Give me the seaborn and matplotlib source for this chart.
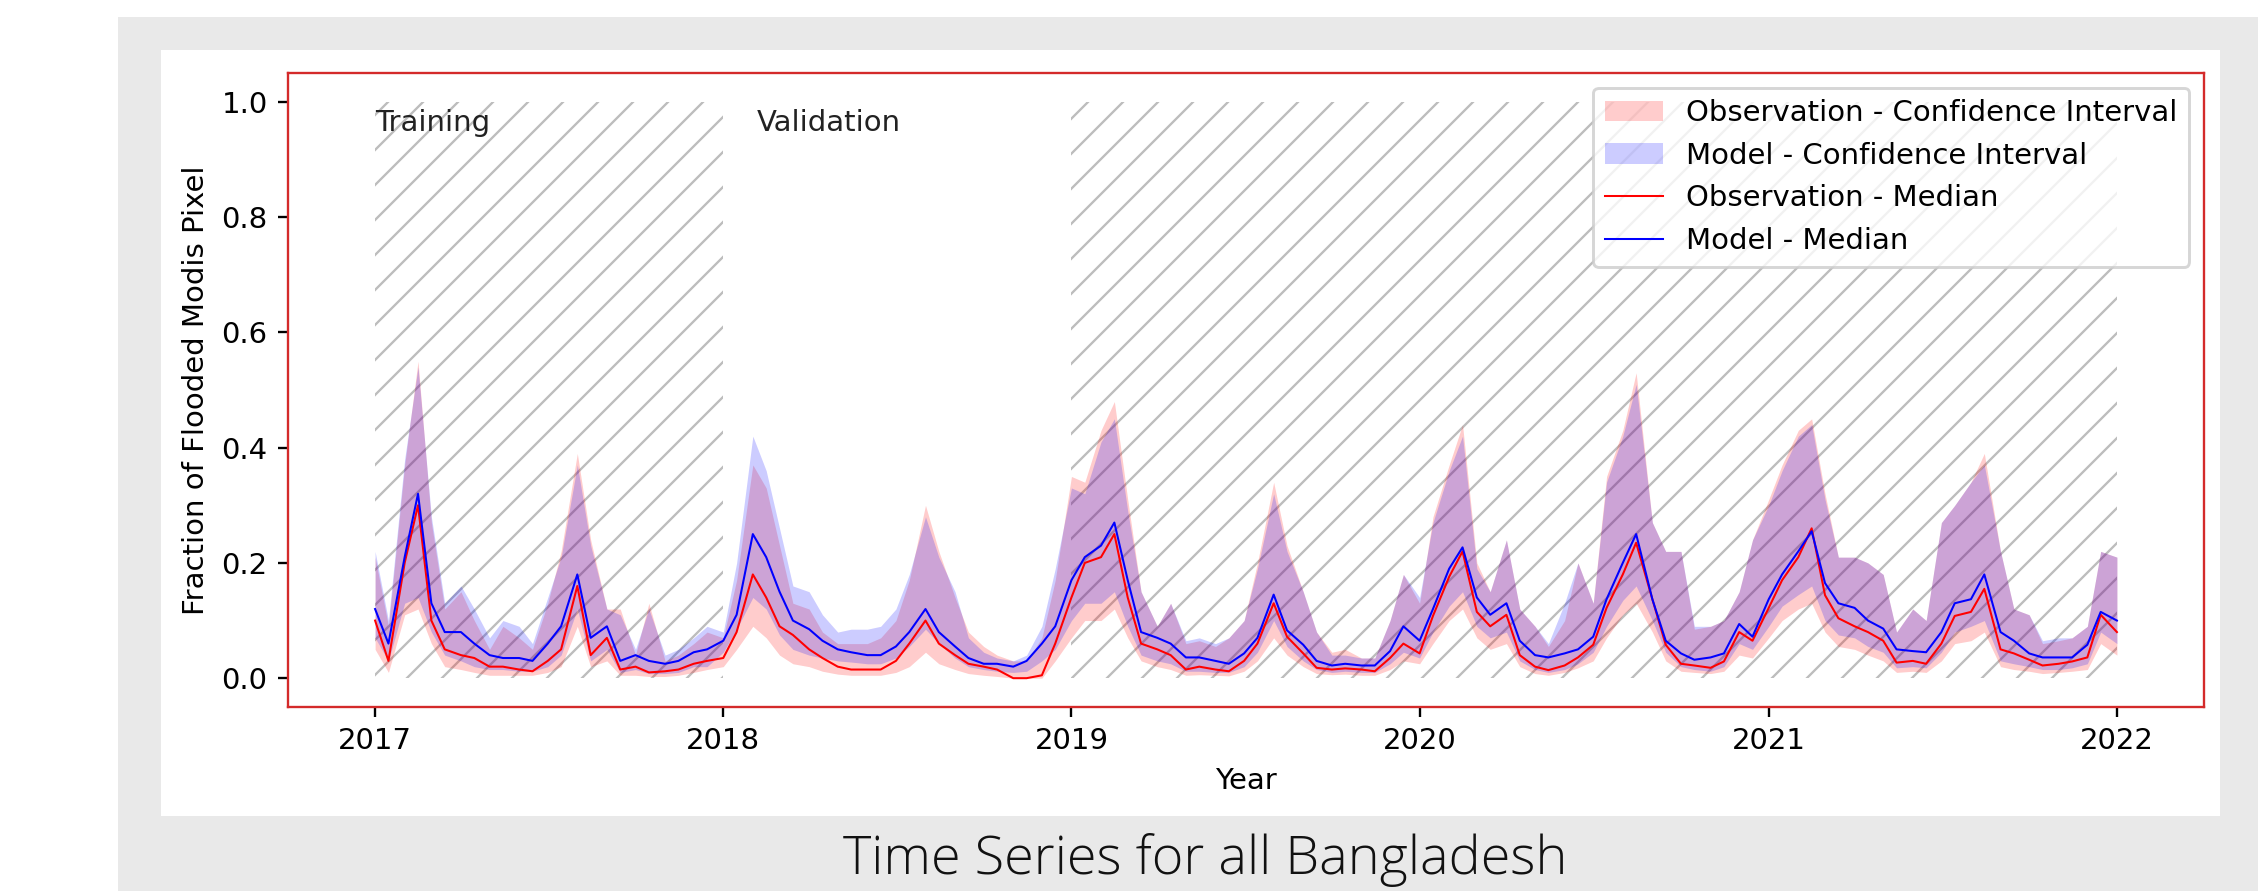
import matplotlib
matplotlib.use("Agg")
import matplotlib.pyplot as plt
import matplotlib.dates as mdates
from matplotlib.patches import Rectangle
import numpy as np
import pandas as pd
import seaborn as sns

# semi-monthly sampling, 2017-01-01 .. 2022-01-01
dates = pd.date_range("2017-01-01", "2022-01-01", freq="SMS")

obs_med = [
    0.10, 0.03, 0.20, 0.30, 0.10, 0.05, 0.04, 0.035, 0.02, 0.02, 0.015, 0.012,
    0.03, 0.05, 0.16, 0.04, 0.07, 0.015, 0.02, 0.01, 0.012, 0.015, 0.025, 0.03,
    0.035, 0.08, 0.18, 0.14, 0.09, 0.075, 0.05, 0.035, 0.02, 0.015, 0.015, 0.015,
    0.03, 0.06, 0.10, 0.06, 0.04, 0.025, 0.02, 0.015, 0.0, 0.0, 0.005, 0.06,
    0.14, 0.20, 0.21, 0.25, 0.14, 0.06, 0.05, 0.04, 0.015, 0.02, 0.015, 0.012,
    0.03, 0.06, 0.13, 0.072, 0.043, 0.018, 0.015, 0.017, 0.015, 0.012, 0.035, 0.06,
    0.043, 0.108, 0.176, 0.22, 0.115, 0.09, 0.11, 0.04, 0.02, 0.014, 0.022, 0.036,
    0.058, 0.122, 0.18, 0.235, 0.137, 0.058, 0.025, 0.022, 0.018, 0.029, 0.08, 0.065,
    0.122, 0.17, 0.21, 0.26, 0.144, 0.104, 0.09, 0.08, 0.065, 0.027, 0.03, 0.025,
    0.06, 0.108, 0.115, 0.155, 0.05, 0.043, 0.032, 0.022, 0.025, 0.029, 0.036, 0.11,
    0.08,
]
mod_med = [
    0.12, 0.06, 0.21, 0.32, 0.13, 0.08, 0.08, 0.06, 0.04, 0.035, 0.035, 0.03,
    0.06, 0.09, 0.18, 0.07, 0.09, 0.03, 0.04, 0.03, 0.025, 0.03, 0.045, 0.05,
    0.065, 0.11, 0.25, 0.21, 0.15, 0.10, 0.085, 0.065, 0.05, 0.045, 0.04, 0.04,
    0.055, 0.08, 0.12, 0.08, 0.055, 0.035, 0.025, 0.025, 0.02, 0.03, 0.06, 0.09,
    0.17, 0.21, 0.23, 0.27, 0.17, 0.08, 0.07, 0.06, 0.036, 0.036, 0.03, 0.025,
    0.043, 0.07, 0.145, 0.083, 0.058, 0.03, 0.022, 0.025, 0.022, 0.022, 0.047, 0.09,
    0.065, 0.12, 0.19, 0.227, 0.14, 0.11, 0.13, 0.065, 0.04, 0.036, 0.043, 0.05,
    0.072, 0.137, 0.20, 0.25, 0.137, 0.065, 0.043, 0.032, 0.036, 0.043, 0.094, 0.072,
    0.137, 0.18, 0.22, 0.255, 0.165, 0.13, 0.122, 0.10, 0.086, 0.05, 0.047, 0.045,
    0.08, 0.13, 0.137, 0.18, 0.08, 0.065, 0.043, 0.036, 0.036, 0.036, 0.058, 0.115,
    0.10,
]
obs_lo = [
    0.05, 0.01, 0.11, 0.12, 0.06, 0.02, 0.015, 0.01, 0.005, 0.005, 0.005, 0.005,
    0.01, 0.02, 0.09, 0.02, 0.03, 0.005, 0.005, 0.003, 0.003, 0.005, 0.01, 0.015,
    0.02, 0.05, 0.09, 0.07, 0.04, 0.025, 0.02, 0.012, 0.007, 0.005, 0.005, 0.005,
    0.01, 0.02, 0.045, 0.025, 0.015, 0.008, 0.005, 0.003, 0.0, 0.0, 0.0, 0.03,
    0.07, 0.10, 0.10, 0.12, 0.07, 0.03, 0.02, 0.015, 0.005, 0.006, 0.005, 0.004,
    0.012, 0.03, 0.07, 0.04, 0.02, 0.008, 0.006, 0.007, 0.005, 0.005, 0.015, 0.03,
    0.025, 0.06, 0.10, 0.12, 0.07, 0.05, 0.06, 0.02, 0.008, 0.005, 0.01, 0.018,
    0.03, 0.07, 0.11, 0.13, 0.08, 0.03, 0.012, 0.01, 0.008, 0.012, 0.04, 0.035,
    0.07, 0.10, 0.12, 0.13, 0.08, 0.055, 0.05, 0.04, 0.03, 0.01, 0.012, 0.01,
    0.03, 0.06, 0.065, 0.08, 0.02, 0.015, 0.012, 0.008, 0.01, 0.012, 0.015, 0.06,
    0.04,
]
obs_hi = [
    0.21, 0.09, 0.37, 0.55, 0.27, 0.12, 0.15, 0.10, 0.05, 0.09, 0.07, 0.05,
    0.13, 0.22, 0.39, 0.24, 0.12, 0.12, 0.04, 0.13, 0.03, 0.04, 0.06, 0.08,
    0.07, 0.17, 0.37, 0.33, 0.23, 0.13, 0.12, 0.08, 0.06, 0.06, 0.06, 0.07,
    0.10, 0.17, 0.30, 0.22, 0.14, 0.08, 0.055, 0.04, 0.03, 0.03, 0.07, 0.17,
    0.35, 0.34, 0.43, 0.48, 0.31, 0.15, 0.09, 0.13, 0.06, 0.065, 0.055, 0.07,
    0.10, 0.20, 0.34, 0.23, 0.15, 0.08, 0.045, 0.05, 0.035, 0.035, 0.10, 0.18,
    0.13, 0.28, 0.37, 0.44, 0.20, 0.15, 0.24, 0.12, 0.09, 0.055, 0.10, 0.20,
    0.13, 0.35, 0.43, 0.53, 0.27, 0.22, 0.22, 0.085, 0.09, 0.10, 0.15, 0.24,
    0.31, 0.37, 0.43, 0.45, 0.32, 0.21, 0.21, 0.20, 0.18, 0.08, 0.12, 0.10,
    0.27, 0.30, 0.34, 0.39, 0.22, 0.12, 0.11, 0.06, 0.065, 0.07, 0.09, 0.22,
    0.21,
]
mod_lo = [
    0.07, 0.03, 0.13, 0.14, 0.08, 0.04, 0.03, 0.02, 0.015, 0.015, 0.012, 0.012,
    0.02, 0.04, 0.12, 0.03, 0.05, 0.01, 0.015, 0.008, 0.008, 0.01, 0.02, 0.02,
    0.045, 0.085, 0.14, 0.12, 0.075, 0.05, 0.04, 0.035, 0.03, 0.028, 0.025, 0.025,
    0.035, 0.055, 0.085, 0.06, 0.035, 0.02, 0.015, 0.012, 0.01, 0.012, 0.03, 0.05,
    0.10, 0.13, 0.13, 0.15, 0.09, 0.04, 0.03, 0.025, 0.012, 0.012, 0.01, 0.01,
    0.02, 0.045, 0.10, 0.055, 0.03, 0.015, 0.01, 0.012, 0.01, 0.01, 0.025, 0.045,
    0.035, 0.08, 0.125, 0.15, 0.09, 0.07, 0.08, 0.03, 0.015, 0.01, 0.015, 0.025,
    0.045, 0.09, 0.135, 0.16, 0.10, 0.045, 0.02, 0.015, 0.012, 0.02, 0.06, 0.05,
    0.09, 0.125, 0.145, 0.16, 0.10, 0.075, 0.07, 0.055, 0.045, 0.018, 0.02, 0.018,
    0.045, 0.08, 0.09, 0.10, 0.03, 0.025, 0.02, 0.015, 0.015, 0.018, 0.025, 0.08,
    0.06,
]
mod_hi = [
    0.22, 0.10, 0.38, 0.54, 0.28, 0.13, 0.16, 0.12, 0.07, 0.10, 0.09, 0.06,
    0.14, 0.21, 0.37, 0.23, 0.12, 0.11, 0.05, 0.12, 0.04, 0.05, 0.07, 0.09,
    0.08, 0.20, 0.42, 0.36, 0.26, 0.16, 0.15, 0.11, 0.08, 0.085, 0.085, 0.09,
    0.12, 0.18, 0.28, 0.21, 0.15, 0.07, 0.045, 0.035, 0.03, 0.04, 0.09, 0.19,
    0.33, 0.32, 0.41, 0.45, 0.29, 0.15, 0.09, 0.13, 0.065, 0.07, 0.06, 0.07,
    0.10, 0.19, 0.32, 0.22, 0.15, 0.08, 0.04, 0.04, 0.035, 0.035, 0.10, 0.18,
    0.14, 0.27, 0.36, 0.42, 0.19, 0.15, 0.24, 0.12, 0.09, 0.06, 0.13, 0.20,
    0.13, 0.34, 0.42, 0.51, 0.27, 0.22, 0.22, 0.09, 0.09, 0.10, 0.15, 0.24,
    0.30, 0.36, 0.42, 0.44, 0.31, 0.21, 0.21, 0.20, 0.18, 0.08, 0.12, 0.10,
    0.27, 0.30, 0.34, 0.37, 0.22, 0.12, 0.11, 0.065, 0.07, 0.07, 0.09, 0.22,
    0.21,
]

# hatched periods (training / test) and annotations
hatch_periods = [("2017-01-01", "2018-01-01"), ("2019-01-01", "2022-01-01")]
period_labels = ["Training", "Validation"]
period_label_dates = ["2017-01-01", "2018-02-05"]

plt.rcParams["hatch.linewidth"] = 0.8

DPI = 210
fig = plt.figure(figsize=(2258 / DPI, 891 / DPI), dpi=DPI)
fig.patch.set_facecolor("white")

# slide background + white card
fig.add_artist(Rectangle((118 / 2258, 0), 1, (891 - 17) / 891, transform=fig.transFigure,
                         facecolor="#e9e9e9", edgecolor="none", zorder=-3))
fig.add_artist(Rectangle((161 / 2258, (891 - 816) / 891), (2220 - 161) / 2258, (816 - 50) / 891,
                         transform=fig.transFigure, facecolor="white", edgecolor="none", zorder=-2))

ax = fig.add_axes([288 / 2258, 1 - 707 / 891, (2204 - 288) / 2258, (707 - 73) / 891])

for start, end in hatch_periods:
    ax.fill_between(pd.to_datetime([start, end]), 0, 1, facecolor="none",
                    edgecolor="#bdbdbd", hatch="//", linewidth=0, zorder=0)

h_obs = ax.fill_between(dates, obs_lo, obs_hi, color="red", alpha=0.2, linewidth=0,
                        label="Observation - Confidence Interval")
h_mod = ax.fill_between(dates, mod_lo, mod_hi, color="blue", alpha=0.2, linewidth=0,
                        label="Model - Confidence Interval")
sns.lineplot(x=dates, y=obs_med, color="red", lw=0.7, ax=ax, label="Observation - Median")
sns.lineplot(x=dates, y=mod_med, color="blue", lw=0.7, ax=ax, label="Model - Median")

for txt, d in zip(period_labels, period_label_dates):
    ax.text(pd.Timestamp(d), 0.95, txt, fontsize=10, color="#222222")

handles, labels = ax.get_legend_handles_labels()
order = ["Observation - Confidence Interval", "Model - Confidence Interval",
         "Observation - Median", "Model - Median"]
hmap = dict(zip(labels, handles))
ax.legend([hmap[k] for k in order], order, loc="upper right", fontsize=10)

ax.xaxis.set_major_locator(mdates.YearLocator())
ax.xaxis.set_major_formatter(mdates.DateFormatter("%Y"))
ax.set_xlabel("Year")
ax.set_ylabel("Fraction of Flooded Modis Pixel")
for sp in ax.spines.values():
    sp.set_color("#d42a2a")

fig.text(1205 / 2258, 1 - 860 / 891, "Time Series for all Bangladesh", ha="center", va="center",
         fontsize=18.5, fontweight="light", family=["Open Sans", "DejaVu Sans"], color="#111111")

fig.savefig("out.png", dpi=DPI)
